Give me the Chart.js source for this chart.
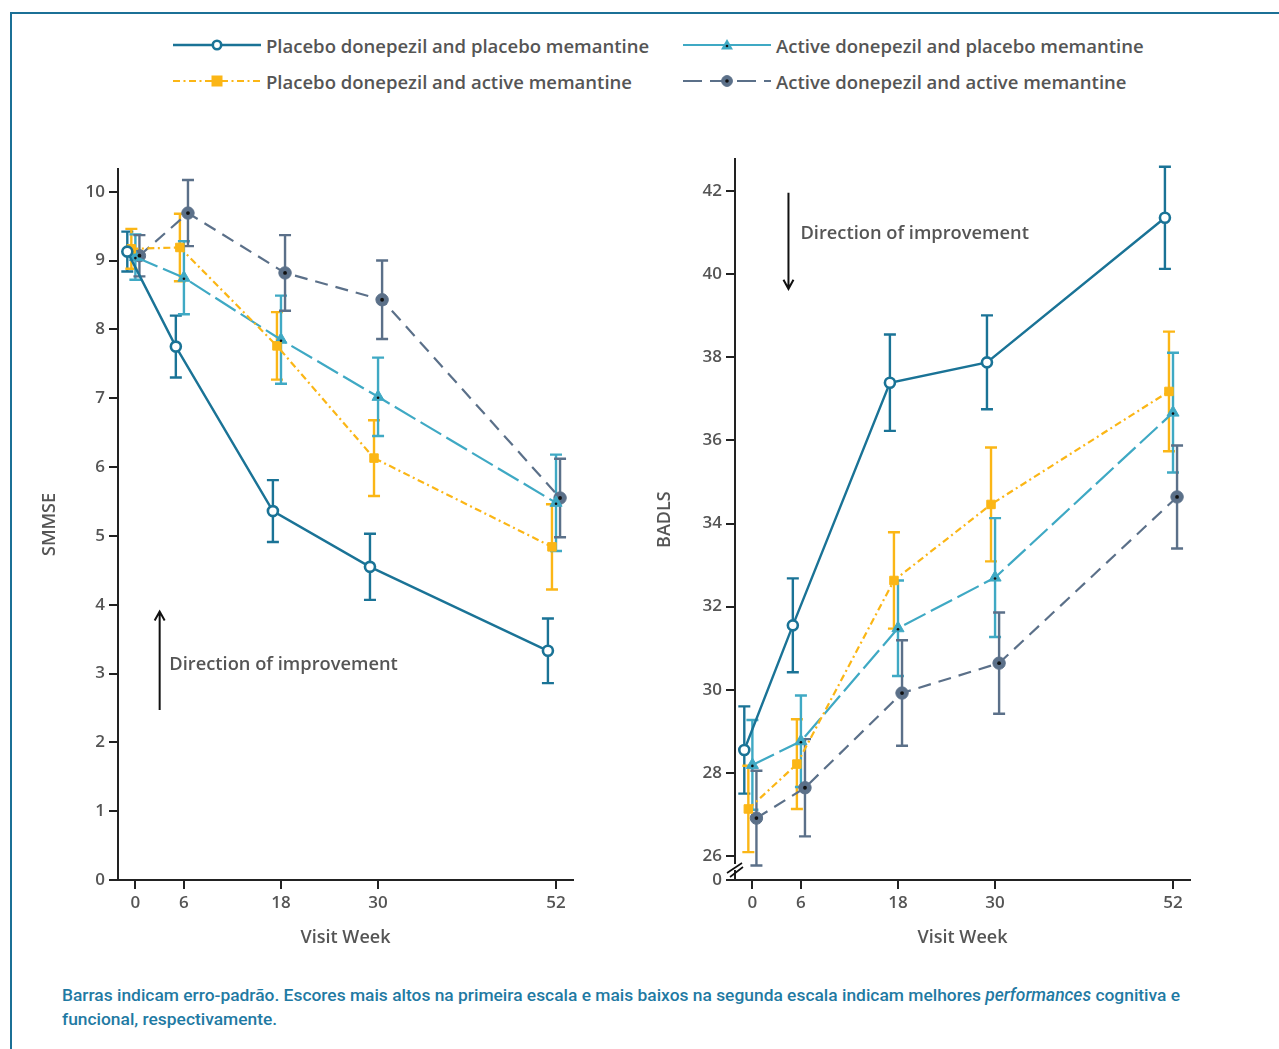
<!DOCTYPE html>
<html>
<head>
<meta charset="utf-8">
<script src="https://cdn.jsdelivr.net/npm/chart.js@4.4.0/dist/chart.umd.min.js"></script>
<style>
  body { margin: 0; background: #fff; font-family: "Open Sans", sans-serif; }
  #page { position: relative; width: 1279px; height: 1049px; overflow: hidden; }
  #frame { position: absolute; left: 10px; top: 12px; width: 1300px; height: 1100px;
           border-left: 2px solid #1b7096; border-top: 2px solid #1b7096; }
  .legItem { position: absolute; height: 24px; display: flex; align-items: center; }
  .legItem span { font-size: 18.5px; font-weight: 600; color: #555; margin-left: 5px; white-space: nowrap; }
  .box { position: absolute; }
  #caption { position: absolute; left: 62px; top: 983px; width: 1200px; color: #1f7aa3;
             font-family: Roboto, sans-serif; font-size: 17.4px; font-weight: 500; line-height: 24px; }
</style>
</head>
<body>
<div id="page">
  <div id="frame"></div>
  <div id="legend"></div>
  <div class="box" style="left:0px; top:150px; width:600px; height:810px"><canvas id="smmse"></canvas></div>
  <div class="box" style="left:615px; top:145px; width:600px; height:815px"><canvas id="badls"></canvas></div>
  <div id="caption">Barras indicam erro-padrão. Escores mais altos na primeira escala e mais baixos na segunda escala indicam melhores <i>performances</i> cognitiva e<br>funcional, respectivamente.</div>
</div>
<script>
// semanas de visita
const weeks = [0, 6, 18, 30, 52];
const seriesNames = [
  'Placebo donepezil and placebo memantine',
  'Placebo donepezil and active memantine',
  'Active donepezil and placebo memantine',
  'Active donepezil and active memantine'
];

// SMMSE (media e erro-padrao)
const smmsePP = [9.13, 7.75, 5.36, 4.55, 3.33];
const smmsePPerr = [0.29, 0.45, 0.45, 0.48, 0.47];
const smmsePA = [9.17, 9.19, 7.76, 6.13, 4.84];
const smmsePAerr = [0.29, 0.49, 0.49, 0.55, 0.62];
const smmseAP = [9.05, 8.75, 7.85, 7.02, 5.48];
const smmseAPerr = [0.33, 0.53, 0.64, 0.57, 0.70];
const smmseAA = [9.07, 9.69, 8.82, 8.43, 5.55];
const smmseAAerr = [0.30, 0.48, 0.55, 0.57, 0.57];
const smmseTicks = [0, 1, 2, 3, 4, 5, 6, 7, 8, 9, 10];

// BADLS
const badlsPP = [28.55, 31.55, 37.39, 37.88, 41.36];
const badlsPPerr = [1.05, 1.13, 1.16, 1.13, 1.23];
const badlsPA = [27.13, 28.21, 32.63, 34.46, 37.18];
const badlsPAerr = [1.04, 1.08, 1.16, 1.37, 1.44];
const badlsAP = [28.19, 28.76, 31.48, 32.70, 36.67];
const badlsAPerr = [1.08, 1.10, 1.15, 1.43, 1.44];
const badlsAA = [26.91, 27.64, 29.92, 30.64, 34.64];
const badlsAAerr = [1.14, 1.17, 1.27, 1.22, 1.24];
const badlsTicks = [26, 28, 30, 32, 34, 36, 38, 40, 42];

// estilos de cada serie (deslocamento horizontal em semanas para nao sobrepor)
const styles = [
  { color: '#1a7396', dash: [], legDash: [], width: 2.4, point: 'circle', radius: 5, fill: '#fff', bw: 2.6, shift: -1.0 },
  { color: '#fbb616', dash: [7, 3.5, 2, 3.5], legDash: [7, 3.5, 2, 3.5], width: 2.2, point: 'rect', radius: 6, fill: '#fbb616', bw: 1, shift: -0.5 },
  { color: '#3fa9c4', dash: [24, 6], legDash: [], width: 2.2, point: 'triangle', radius: 7, fill: '#3fa9c4', bw: 1, shift: 0, dot: true },
  { color: '#5b7089', dash: [13, 8], legDash: [19, 8], width: 2.2, point: 'circle', radius: 6.2, fill: '#5b7089', bw: 1, shift: 0.5, dot: true }
];

const textGray = '#555';
const axisColor = '#222';

// legenda
const legendPos = [[173, 33], [173, 69], [683, 33], [683, 69]];
const legend = document.getElementById('legend');
styles.forEach((s, i) => {
  const item = document.createElement('div');
  item.className = 'legItem';
  item.style.left = legendPos[i][0] + 'px';
  item.style.top = legendPos[i][1] + 'px';
  const dash = s.legDash.length ? `stroke-dasharray="${s.legDash.join(',')}"` : '';
  let mark = '';
  if (s.point === 'circle') {
    mark = `<circle cx="44" cy="12" r="${s.radius - 0.8}" fill="${s.fill}" stroke="${s.color}" stroke-width="${s.bw}"/>`;
    if (s.dot) mark += `<circle cx="44" cy="12" r="1.8" fill="#111"/>`;
  } else if (s.point === 'rect') {
    mark = `<rect x="38.5" y="6.5" width="11" height="11" fill="${s.fill}"/>`;
  } else {
    mark = `<polygon points="44,6 50,16.5 38,16.5" fill="${s.fill}"/><circle cx="44" cy="13" r="1.3" fill="#111"/>`;
  }
  item.innerHTML = `<svg width="88" height="24"><line x1="0" y1="12" x2="88" y2="12" stroke="${s.color}" stroke-width="${s.width}" ${dash}/>${mark}</svg><span>${seriesNames[i]}</span>`;
  legend.appendChild(item);
});

// barras de erro
const errorBars = {
  id: 'errorBars',
  beforeDatasetsDraw(chart) {
    const ctx = chart.ctx;
    const xs = chart.scales.x, ys = chart.scales.y;
    chart.data.datasets.forEach(ds => {
      ctx.save();
      ctx.strokeStyle = ds.borderColor;
      ctx.lineWidth = 2.4;
      ds.data.forEach((p, i) => {
        const e = ds.errors[i];
        const x = xs.getPixelForValue(p.x);
        const y1 = ys.getPixelForValue(p.y + e);
        const y2 = ys.getPixelForValue(p.y - e);
        ctx.beginPath();
        ctx.moveTo(x, y1); ctx.lineTo(x, y2);
        ctx.moveTo(x - 6, y1); ctx.lineTo(x + 6, y1);
        ctx.moveTo(x - 6, y2); ctx.lineTo(x + 6, y2);
        ctx.stroke();
      });
      ctx.restore();
    });
  },
  afterDatasetsDraw(chart) {
    const ctx = chart.ctx;
    chart.data.datasets.forEach((ds, di) => {
      if (!ds.centerDot) return;
      chart.getDatasetMeta(di).data.forEach(el => {
        ctx.beginPath();
        ctx.fillStyle = '#111';
        ctx.arc(el.x, el.y + (ds.pointStyle === 'triangle' ? 1 : 0), ds.pointStyle === 'triangle' ? 1.3 : 1.9, 0, Math.PI * 2);
        ctx.fill();
      });
    });
  }
};

// seta "Direction of improvement" e quebra de eixo
const extras = {
  id: 'extras',
  afterDraw(chart, args, opts) {
    const ctx = chart.ctx;
    const xs = chart.scales.x, ys = chart.scales.y;
    const a = opts.arrow;
    if (a) {
      const x = xs.getPixelForValue(a.x);
      const y1 = ys.getPixelForValue(a.from);
      const y2 = ys.getPixelForValue(a.to);
      const dir = y2 < y1 ? 1 : -1;
      ctx.save();
      ctx.strokeStyle = '#111';
      ctx.lineWidth = 2;
      ctx.beginPath();
      ctx.moveTo(x, y1); ctx.lineTo(x, y2);
      ctx.moveTo(x - 5, y2 + dir * 9); ctx.lineTo(x, y2); ctx.lineTo(x + 5, y2 + dir * 9);
      ctx.stroke();
      ctx.fillStyle = textGray;
      ctx.font = '600 18.3px "Open Sans"';
      ctx.textBaseline = 'middle';
      ctx.fillText('Direction of improvement', xs.getPixelForValue(a.textX), ys.getPixelForValue(a.textY));
      ctx.restore();
    }
    if (opts.axisBreak) {
      const l = chart.chartArea.left, b = chart.chartArea.bottom;
      ctx.save();
      ctx.fillStyle = '#fff';
      ctx.fillRect(l - 3, b - 16, 6, 6);
      ctx.strokeStyle = '#111';
      ctx.lineWidth = 1.6;
      ctx.beginPath();
      ctx.moveTo(l - 8, b - 7); ctx.lineTo(l + 7, b - 17);
      ctx.moveTo(l - 5, b - 3); ctx.lineTo(l + 8, b - 13);
      ctx.stroke();
      ctx.restore();
    }
  }
};

function buildDatasets(values, errors) {
  return values.map((vals, i) => {
    const s = styles[i];
    return {
      label: seriesNames[i],
      data: vals.map((v, k) => ({ x: weeks[k] + s.shift, y: v })),
      errors: errors[i],
      borderColor: s.color,
      borderWidth: s.width,
      borderDash: s.dash,
      pointStyle: s.point,
      pointRadius: s.radius,
      pointBackgroundColor: s.fill,
      pointBorderColor: s.color,
      pointBorderWidth: s.bw,
      centerDot: !!s.dot,
      tension: 0
    };
  });
}

function makeChart(id, datasets, yCfg, extraOpts, padTop, padRight) {
  const tickFont = { family: 'Open Sans', size: 17, weight: '600' };
  const titleFont = { family: 'Open Sans', size: 18, weight: '600' };
  return new Chart(document.getElementById(id), {
    type: 'line',
    data: { datasets },
    plugins: [errorBars, extras],
    options: {
      responsive: true,
      maintainAspectRatio: false,
      animation: false,
      layout: { padding: { top: padTop, right: padRight, left: 0, bottom: 0 } },
      plugins: { legend: { display: false }, tooltip: { enabled: false }, extras: extraOpts },
      scales: {
        x: {
          type: 'linear',
          min: -2.15,
          max: 54.1,
          afterBuildTicks: s => { s.ticks = weeks.map(v => ({ value: v })); },
          afterFit: s => { s.height = 80; },
          grid: { drawOnChartArea: false, drawTicks: true, tickLength: 9, color: axisColor, lineWidth: 2 },
          border: { color: axisColor, width: 2 },
          ticks: { color: textGray, font: tickFont, padding: 4, autoSkip: false, maxRotation: 0 },
          title: { display: true, text: 'Visit Week', color: textGray, font: titleFont, padding: { bottom: 11 } }
        },
        y: {
          type: 'linear',
          min: yCfg.min,
          max: yCfg.max,
          afterBuildTicks: s => { s.ticks = yCfg.ticks.map(v => ({ value: v })); },
          afterFit: s => { s.width = yCfg.width; },
          grid: { drawOnChartArea: false, drawTicks: true, tickLength: 9, color: axisColor, lineWidth: 2 },
          border: { color: axisColor, width: 2 },
          ticks: { color: textGray, font: tickFont, padding: 4, callback: yCfg.label },
          title: { display: true, text: yCfg.title, color: textGray, font: titleFont, padding: { top: 39 } }
        }
      }
    }
  });
}

makeChart('smmse',
  buildDatasets([smmsePP, smmsePA, smmseAP, smmseAA], [smmsePPerr, smmsePAerr, smmseAPerr, smmseAAerr]),
  { min: 0, max: 10.33, ticks: smmseTicks, width: 118, title: 'SMMSE', label: v => v },
  { arrow: { x: 3.0, from: 2.47, to: 3.9, textX: 4.2, textY: 3.12 } },
  19, 27);

const badlsMin = 25.42;
makeChart('badls',
  buildDatasets([badlsPP, badlsPA, badlsAP, badlsAA], [badlsPPerr, badlsPAerr, badlsAPerr, badlsAAerr]),
  { min: badlsMin, max: 42.77, ticks: [badlsMin].concat(badlsTicks), width: 120, title: 'BADLS', label: v => (v < 26 ? '0' : v) },
  { arrow: { x: 4.46, from: 41.96, to: 39.65, textX: 5.94, textY: 40.98 }, axisBreak: true },
  2, 25);
</script>
</body>
</html>
